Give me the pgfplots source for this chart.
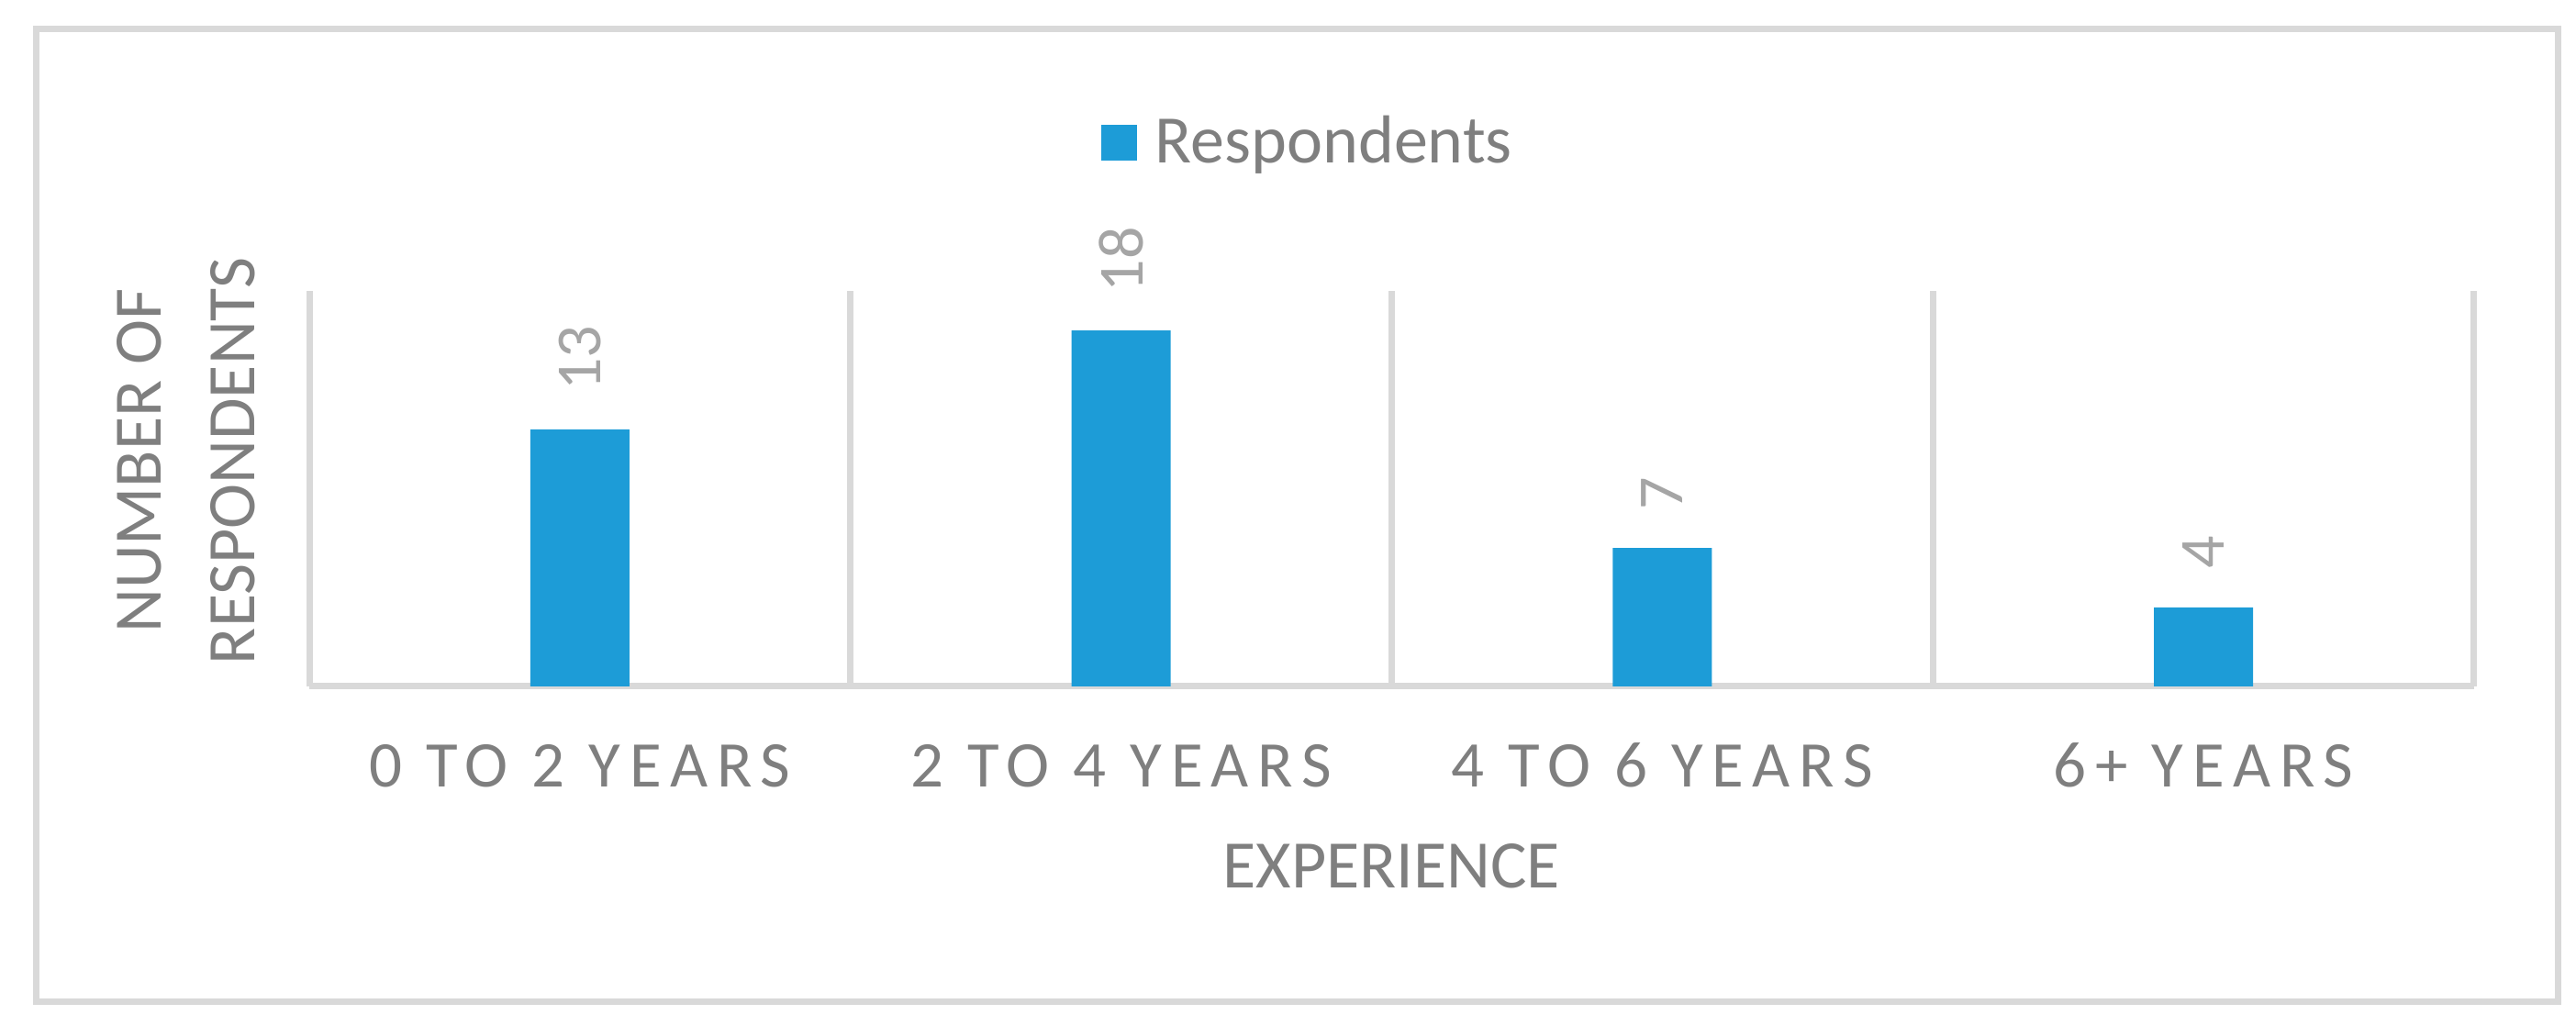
\documentclass[border=0pt]{standalone}
\usepackage{fontspec}
\setmainfont{Carlito}
\newfontfamily\spacedfont[LetterSpace=14]{Carlito}
\usepackage{pgfplots}
\pgfplotsset{compat=1.18}

\definecolor{barblue}{RGB}{29,156,215}
\definecolor{gridgray}{RGB}{217,217,217}
\definecolor{txtgray}{RGB}{127,127,127}
\definecolor{lblgray}{RGB}{165,165,165}

\begin{document}
\begin{tikzpicture}
% page size and outer chart frame
\path (0,0) rectangle (280.7pt,111.8pt);
\draw[gridgray, line width=0.7pt] (3.9pt,2.6pt) rectangle (278.7pt,108.6pt);

\begin{axis}[
    at={(33.7pt,37pt)}, anchor=south west,
    scale only axis,
    width=235.9pt, height=43.1pt,
    ybar,
    bar width=10.8pt,
    xmin=-0.5, xmax=3.5,
    ymin=0, ymax=20,
    xtick={0,1,2,3},
    xticklabels={0 TO 2 YEARS, 2 TO 4 YEARS, 4 TO 6 YEARS, 6+ YEARS},
    minor xtick={-0.5,0.5,1.5,2.5,3.5},
    xminorgrids,
    minor grid style={draw=gridgray, line width=0.7pt},
    ytick=\empty,
    axis y line*=left,
    y axis line style={draw=none},
    axis x line*=bottom,
    x axis line style={draw=gridgray, line width=0.7pt, -},
    major tick length=0pt, minor tick length=0pt,
    xticklabel style={font=\fontsize{7.1pt}{8pt}\spacedfont, text=txtgray, anchor=base, yshift=-11pt},
    xlabel={EXPERIENCE},
    xlabel style={at={(axis description cs:0.5,0)}, anchor=base, yshift=-22pt,
        font=\fontsize{7.4pt}{8pt}\selectfont, text=txtgray},
    ylabel={NUMBER OF\\RESPONDENTS},
    ylabel style={at={(axis description cs:-0.0568,0.57)}, anchor=center, align=center,
        font=\fontsize{7.4pt}{10.2pt}\selectfont, text=txtgray},
    nodes near coords,
    nodes near coords style={rotate=90, anchor=west, font=\fontsize{7pt}{8pt}\selectfont,
        text=lblgray, inner xsep=4pt, inner ysep=0pt},
    /pgf/number format/assume math mode=true,
    legend style={at={(0.465,1.366)}, anchor=center, draw=none, fill=none,
        font=\fontsize{7.4pt}{8pt}\selectfont, text=txtgray},
    legend image code/.code={\fill[barblue] (0pt,-1.6pt) rectangle (3.9pt,2.3pt);},
]
\addplot[fill=barblue, draw=none] coordinates {
    (0,13)
    (1,18)
    (2,7)
    (3,4)
};
\legend{Respondents}
\end{axis}
\end{tikzpicture}
\end{document}
